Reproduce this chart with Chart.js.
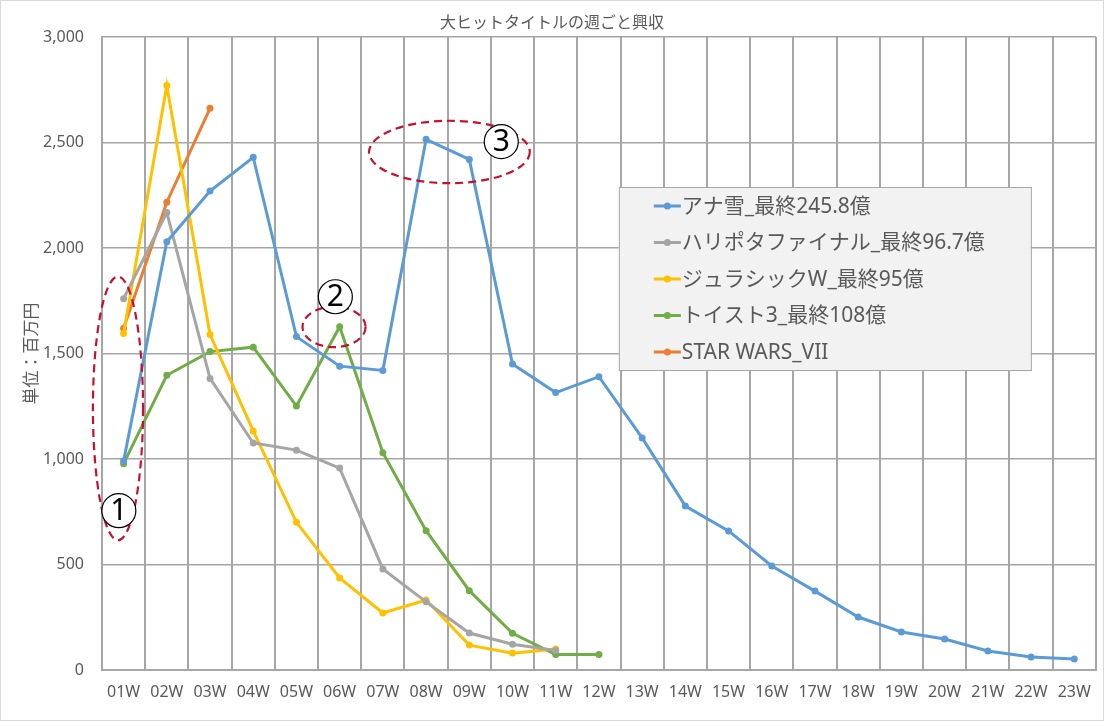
<!DOCTYPE html>
<html>
<head>
<meta charset="utf-8">
<script src="https://cdn.jsdelivr.net/npm/chart.js@4"></script>
<style>
  html, body { margin: 0; padding: 0; background: #fff; }
  canvas { display: block; }
</style>
</head>
<body>
<canvas id="myChart" width="1104" height="721"></canvas>
<script>
const chartTitle = '大ヒットタイトルの週ごと興収';
const yTitle = '単位：百万円';

const weeks = ['01W', '02W', '03W', '04W', '05W', '06W', '07W', '08W', '09W', '10W', '11W', '12W',
    '13W', '14W', '15W', '16W', '17W', '18W', '19W', '20W', '21W', '22W', '23W'];

const seriesNames = ['アナ雪_最終245.8億', 'ハリポタファイナル_最終96.7億', 'ジュラシックW_最終95億', 'トイスト3_最終108億', 'STAR WARS_VII'];

const anaYuki = [990, 2030, 2270, 2430, 1580, 1440, 1420, 2515, 2420, 1450, 1315, 1390, 1100, 777, 659, 493, 374, 251, 180, 147, 90, 62, 52];
const hariPota = [1760, 2168, 1382, 1076, 1042, 957, 479, 323, 175, 122, 92];
const jurassic = [1595, 2770, 1590, 1133, 700, 436, 270, 332, 118, 80, 100];
const toyStory = [978, 1397, 1509, 1530, 1251, 1627, 1030, 660, 376, 174, 73, 73];
const starWars = [1620, 2217, 2662];

const yTicksMin = 0, yTicksMax = 3000, yTicksStep = 500;

// red dashed call-outs, in data units (x = week index, y = value)
const notes = [
    { mark: '1', cx: -0.13, cy: 1240, rx: 0.58, ry: 625, nx: -0.11, ny: 755 },
    { mark: '2', cx: 4.87, cy: 1626, rx: 0.73, ry: 96, nx: 4.90, ny: 1769 },
    { mark: '3', cx: 7.54, cy: 2455, rx: 1.86, ry: 148, nx: 8.74, ny: 2504 }
];

const colors = ['#5b9bd5', '#a5a5a5', '#ffc000', '#70ad47', '#ed7d31'];
const textColor = '#595959';
const fontFamily = "'Noto Sans', 'Noto Sans CJK JP', sans-serif";

Chart.defaults.font.family = fontFamily;
Chart.defaults.color = textColor;

function makeSet(i, data) {
    return {
        label: seriesNames[i],
        data: data,
        borderColor: colors[i],
        backgroundColor: colors[i],
        borderWidth: 3,
        pointRadius: 3.5,
        pointBorderWidth: 0,
        pointBackgroundColor: colors[i],
        tension: 0,
        fill: false
    };
}

const decorPlugin = {
    id: 'decor',
    beforeDraw(chart) {
        const ctx = chart.ctx;
        ctx.save();
        ctx.fillStyle = '#fff';
        ctx.fillRect(0, 0, chart.width, chart.height);
        ctx.strokeStyle = '#d9d9d9';
        ctx.lineWidth = 1;
        ctx.strokeRect(0.5, 0.5, chart.width - 1, chart.height - 1);
        ctx.fillStyle = textColor;
        ctx.font = "16px 'Noto Sans CJK JP'";
        ctx.textAlign = 'center';
        ctx.textBaseline = 'middle';
        ctx.fillText(chartTitle, chart.width / 2, 22);
        ctx.restore();
    },
    afterDatasetsDraw(chart) {
        const ctx = chart.ctx;
        const xs = chart.scales.x, ys = chart.scales.y;
        const unitX = xs.getPixelForValue(1) - xs.getPixelForValue(0);
        const unitY = ys.getPixelForValue(0) - ys.getPixelForValue(1);
        ctx.save();
        notes.forEach(n => {
            ctx.beginPath();
            ctx.setLineDash([8, 5]);
            ctx.strokeStyle = '#c8102e';
            ctx.lineWidth = 2.2;
            ctx.ellipse(xs.getPixelForValue(n.cx), ys.getPixelForValue(n.cy), n.rx * unitX, n.ry * unitY, 0, 0, Math.PI * 2);
            ctx.stroke();
        });
        ctx.setLineDash([]);
        notes.forEach(n => {
            const px = xs.getPixelForValue(n.nx), py = ys.getPixelForValue(n.ny);
            ctx.beginPath();
            ctx.arc(px, py, 17, 0, Math.PI * 2);
            ctx.fillStyle = '#fff';
            ctx.fill();
            ctx.strokeStyle = '#000';
            ctx.lineWidth = 1.2;
            ctx.stroke();
            ctx.fillStyle = '#000';
            ctx.font = "30px 'Noto Sans'";
            ctx.textAlign = 'center';
            ctx.textBaseline = 'middle';
            ctx.fillText(n.mark, px, py + 1);
        });

        // legend box inside the plot
        const area = chart.chartArea;
        const bx = area.right - 477, by = area.top + 150, bw = 412, bh = 183;
        ctx.fillStyle = '#f2f2f2';
        ctx.fillRect(bx, by, bw, bh);
        ctx.strokeStyle = '#a6a6a6';
        ctx.lineWidth = 1;
        ctx.strokeRect(bx + 0.5, by + 0.5, bw, bh);
        ctx.font = "21px " + fontFamily;
        ctx.textAlign = 'left';
        ctx.textBaseline = 'middle';
        chart.data.datasets.forEach((ds, i) => {
            const ly = by + 19 + i * 36.5;
            ctx.strokeStyle = ds.borderColor;
            ctx.lineWidth = 3;
            ctx.beginPath();
            ctx.moveTo(bx + 35, ly);
            ctx.lineTo(bx + 62, ly);
            ctx.stroke();
            ctx.fillStyle = ds.borderColor;
            ctx.beginPath();
            ctx.arc(bx + 48.5, ly, 3.5, 0, Math.PI * 2);
            ctx.fill();
            ctx.fillStyle = textColor;
            ctx.fillText(ds.label, bx + 63, ly + 1);
        });
        ctx.restore();
    }
};

const ctx = document.getElementById('myChart').getContext('2d');
new Chart(ctx, {
    type: 'line',
    data: {
        labels: weeks,
        datasets: [
            makeSet(0, anaYuki),
            makeSet(1, hariPota),
            makeSet(2, jurassic),
            makeSet(3, toyStory),
            makeSet(4, starWars)
        ]
    },
    options: {
        responsive: false,
        animation: false,
        layout: { padding: { top: 37, right: 7, left: 0, bottom: 0 } },
        plugins: {
            legend: { display: false },
            title: { display: false },
            tooltip: { enabled: false }
        },
        scales: {
            x: {
                offset: true,
                grid: { offset: true, color: '#a6a6a6', lineWidth: 2, drawTicks: false },
                border: { color: '#a6a6a6', width: 2 },
                ticks: { padding: 13, font: { size: 16 }, color: textColor, maxRotation: 0, autoSkip: false },
                afterFit(scale) { scale.height = 51; }
            },
            y: {
                min: yTicksMin,
                max: yTicksMax,
                ticks: {
                    stepSize: yTicksStep,
                    padding: 18,
                    font: { size: 16 },
                    color: textColor,
                    callback: v => v.toLocaleString('en-US')
                },
                grid: { color: '#a6a6a6', lineWidth: 1.5, drawTicks: false },
                border: { color: '#a6a6a6', width: 2 },
                title: {
                    display: true,
                    text: yTitle,
                    font: { size: 17, family: "'Noto Sans CJK JP'" },
                    color: textColor,
                    padding: { top: 20, bottom: 0 }
                },
                afterFit(scale) { scale.width = 102; }
            }
        }
    },
    plugins: [decorPlugin]
});
</script>
</body>
</html>
